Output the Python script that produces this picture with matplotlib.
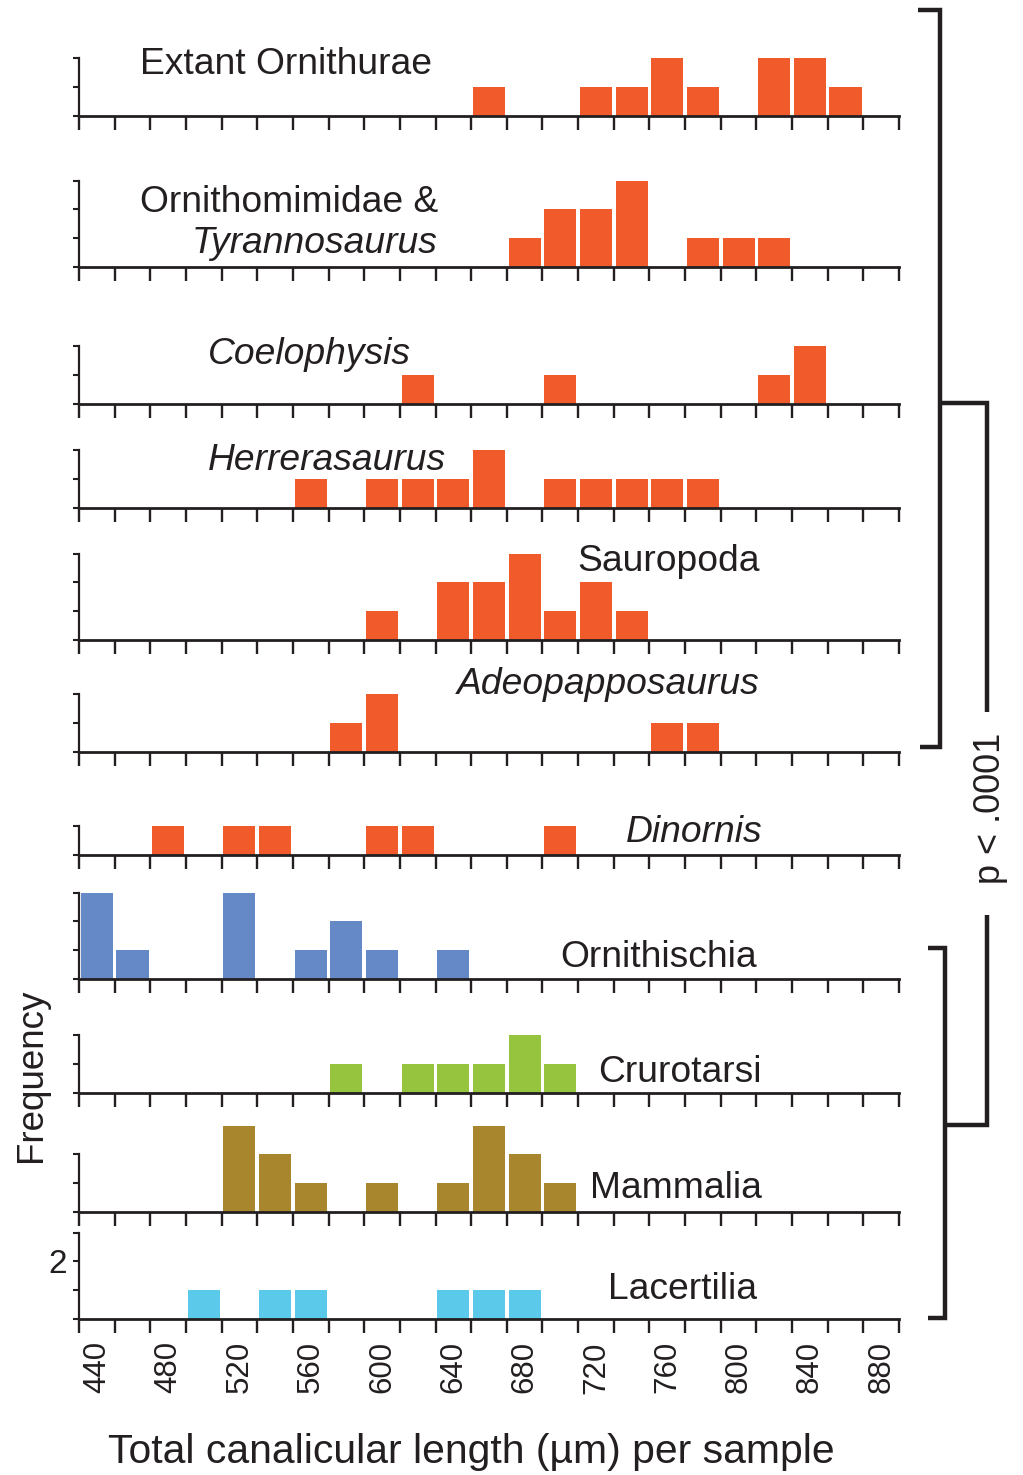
import numpy as np
import matplotlib.pyplot as plt
from matplotlib.lines import Line2D

plt.rcParams['font.family'] = ['Liberation Sans', 'DejaVu Sans']

# bins of 20 um, labelled at their centres
bin_centers = np.arange(440, 881, 20)
bin_edges = np.arange(430, 891, 20)
tick_values = np.arange(440, 881, 40)
tick_labels = [str(v) for v in tick_values]

# counts per bin (440 ... 880)
extant_ornithurae = [0,0,0,0,0,0,0,0,0,0,0,1,0,0,1,1,2,1,0,2,2,1,0]
ornithomimidae    = [0,0,0,0,0,0,0,0,0,0,0,0,1,2,2,3,0,1,1,1,0,0,0]
coelophysis       = [0,0,0,0,0,0,0,0,0,1,0,0,0,1,0,0,0,0,0,1,2,0,0]
herrerasaurus     = [0,0,0,0,0,0,1,0,1,1,1,2,0,1,1,1,1,1,0,0,0,0,0]
sauropoda         = [0,0,0,0,0,0,0,0,1,0,2,2,3,1,2,1,0,0,0,0,0,0,0]
adeopapposaurus   = [0,0,0,0,0,0,0,1,2,0,0,0,0,0,0,0,1,1,0,0,0,0,0]
dinornis          = [0,0,1,0,1,1,0,0,1,1,0,0,0,1,0,0,0,0,0,0,0,0,0]
ornithischia      = [3,1,0,0,3,0,1,2,1,0,1,0,0,0,0,0,0,0,0,0,0,0,0]
crurotarsi        = [0,0,0,0,0,0,0,1,0,1,1,1,2,1,0,0,0,0,0,0,0,0,0]
mammalia          = [0,0,0,0,3,2,1,0,1,0,1,3,2,1,0,0,0,0,0,0,0,0,0]
lacertilia        = [0,0,0,1,0,1,1,0,0,0,1,1,1,0,0,0,0,0,0,0,0,0,0]

orange = '#f15a2b'
blue = '#6589c6'
green = '#97c43e'
gold = '#a8862d'
cyan = '#5bcaea'
ink = '#231f20'

panels = [extant_ornithurae, ornithomimidae, coelophysis, herrerasaurus,
          sauropoda, adeopapposaurus, dinornis, ornithischia, crurotarsi,
          mammalia, lacertilia]
colors = [orange]*7 + [blue, green, gold, cyan]
axis_tops = [2, 3, 2, 2, 3, 2, 1, 3, 2, 2, 3]
baselines = [116, 267, 404, 508, 640, 752, 855, 979, 1093, 1212, 1319]

W, H = 1023, 1475
fig = plt.figure(figsize=(W / 100, H / 100), dpi=100)
unit = 28.8
x0, x1 = 79, 899


def fx(px):
    return px / W


def fy(py):
    return 1 - py / H


for i, counts in enumerate(panels):
    ytop = axis_tops[i]
    top = max(ytop, max(counts))
    base = baselines[i]
    ax = fig.add_axes([fx(x0), fy(base), fx(x1 - x0), top * unit / H])
    ax.patch.set_visible(False)
    ax.bar(bin_centers, counts, width=18, color=colors[i], linewidth=0)
    ax.set_xlim(430, 890)
    ax.set_ylim(0, top)
    ax.spines[['top', 'right']].set_visible(False)
    ax.spines['left'].set_bounds(0, ytop)
    ax.spines['bottom'].set_linewidth(2.0)
    ax.spines['left'].set_linewidth(1.6)
    ax.spines['bottom'].set_color(ink)
    ax.spines['left'].set_color(ink)
    ax.set_xticks(bin_edges)
    ax.set_xticklabels([])
    ax.set_yticks(range(ytop + 1))
    ax.set_yticklabels([])
    ax.tick_params(axis='x', direction='out', length=10, width=1.7, color=ink)
    ax.tick_params(axis='y', direction='out', length=4.5, width=1.5, color=ink)
    if i == len(panels) - 1:
        ax.set_xticks(tick_values, labels=tick_labels, minor=True)
        ax.tick_params(axis='x', which='minor', length=0, pad=16,
                       labelsize=22.5, labelrotation=90, labelcolor=ink)
        ax.set_yticklabels(['', '', '2', ''], fontsize=24, color=ink)
        ax.tick_params(axis='y', pad=4)

# group names
txt = dict(fontsize=26.8, color=ink, va='baseline')
fig.text(fx(140), fy(74), 'Extant Ornithurae', ha='left', **txt)
fig.text(fx(438), fy(212), 'Ornithomimidae &', ha='right', **txt)
fig.text(fx(438), fy(253), 'Tyrannosaurus', ha='right', style='italic', **txt)
fig.text(fx(208), fy(364), 'Coelophysis', ha='left', style='italic', **txt)
fig.text(fx(208), fy(470), 'Herrerasaurus', ha='left', style='italic', **txt)
fig.text(fx(577), fy(571), 'Sauropoda', ha='left', **txt)
fig.text(fx(760), fy(694), 'Adeopapposaurus', ha='right', style='italic', **txt)
fig.text(fx(762), fy(842), 'Dinornis', ha='right', style='italic', **txt)
fig.text(fx(757), fy(967), 'Ornithischia', ha='right', **txt)
fig.text(fx(762), fy(1082), 'Crurotarsi', ha='right', **txt)
fig.text(fx(762), fy(1198), 'Mammalia', ha='right', **txt)
fig.text(fx(757), fy(1299), 'Lacertilia', ha='right', **txt)

fig.text(fx(32), fy(1075), 'Frequency', rotation=90, ha='center', va='center',
         fontsize=26.5, color=ink)
fig.text(fx(471), fy(1463), 'Total canalicular length (\u00b5m) per sample',
         ha='center', va='baseline', fontsize=29.4, color=ink)
fig.text(fx(990), fy(808), 'p < .0001', rotation=90, ha='center', va='center',
         fontsize=26, color=ink)


# significance brackets
def poly(xs, ys):
    fig.add_artist(Line2D([fx(v) for v in xs], [fy(v) for v in ys], color=ink,
                          lw=3.2, solid_joinstyle='miter', solid_capstyle='butt'))


poly([918, 940, 940, 920], [10, 10, 747, 747])
poly([940, 987, 987], [403, 403, 712])
poly([987, 987, 945], [915, 1125, 1125])
poly([928, 945, 945, 928], [948, 948, 1318, 1318])

fig.savefig('out.png', dpi=100)
